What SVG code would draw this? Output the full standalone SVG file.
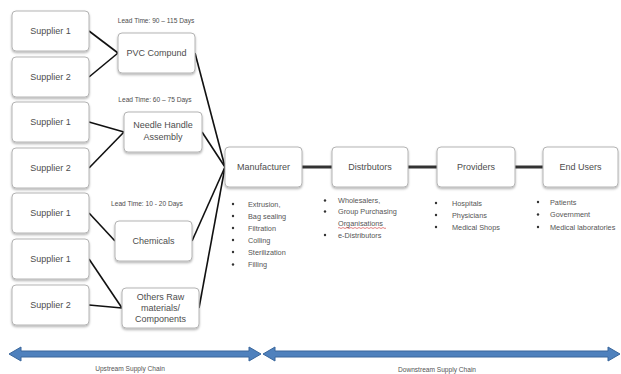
<svg xmlns="http://www.w3.org/2000/svg" width="621" height="374" viewBox="0 0 621 374">
  <style>
    .box { fill: #ffffff; stroke: #b4b4b4; stroke-width: 1; filter: url(#shadow); }
    .lbl { font-family: "Liberation Sans", Arial, sans-serif; font-size: 9px; fill: #4d4d4d; text-anchor: middle; }
    .lead { font-family: "Liberation Sans", Arial, sans-serif; font-size: 6.6px; fill: #4d4d4d; text-anchor: middle; }
    .item { font-family: "Liberation Sans", Arial, sans-serif; font-size: 7.3px; fill: #555555; }
    .cap { font-family: "Liberation Sans", Arial, sans-serif; font-size: 6.6px; fill: #555555; text-anchor: middle; }
    .feed { stroke: #111111; stroke-width: 1.6; fill: none; }
    .flow { stroke: #333333; stroke-width: 3; fill: none; }
    .dot { fill: #333333; }
    .band { fill: #4f81bd; stroke: #3a679c; stroke-width: 1; }
  </style>
  <defs>
    <filter id="shadow" x="-10%" y="-10%" width="120%" height="130%">
      <feDropShadow dx="0" dy="1.5" stdDeviation="1" flood-color="#000000" flood-opacity="0.3"/>
    </filter>
  </defs>

  <rect width="621" height="374" fill="#ffffff"/>

  <!-- connectors -->
  <g id="connectors">
    <line class="feed" x1="89" y1="31" x2="118" y2="53"/>
    <line class="feed" x1="89" y1="77" x2="118" y2="53"/>
    <line class="feed" x1="89" y1="122" x2="124" y2="132"/>
    <line class="feed" x1="89" y1="168" x2="124" y2="132"/>
    <line class="feed" x1="89" y1="213" x2="115" y2="241"/>
    <line class="feed" x1="89" y1="259" x2="122" y2="308"/>
    <line class="feed" x1="89" y1="305" x2="122" y2="308"/>
    <line class="feed" x1="195" y1="53" x2="225" y2="167"/>
    <line class="feed" x1="202" y1="132" x2="225" y2="167"/>
    <line class="feed" x1="192" y1="241" x2="225" y2="167"/>
    <line class="feed" x1="199" y1="308" x2="225" y2="167"/>
    <line class="flow" x1="302" y1="167" x2="332" y2="167"/>
    <line class="flow" x1="408" y1="167" x2="437" y2="167"/>
    <line class="flow" x1="515" y1="167" x2="543" y2="167"/>
  </g>

  <!-- suppliers -->
  <g id="supplier-pvc-1"><rect class="box" x="12" y="11" width="77" height="40" rx="4"/><text class="lbl" x="50.5" y="34">Supplier 1</text></g>
  <g id="supplier-pvc-2"><rect class="box" x="12" y="57" width="77" height="40" rx="4"/><text class="lbl" x="50.5" y="80">Supplier 2</text></g>
  <g id="supplier-needle-1"><rect class="box" x="12" y="102" width="77" height="40" rx="4"/><text class="lbl" x="50.5" y="125">Supplier 1</text></g>
  <g id="supplier-needle-2"><rect class="box" x="12" y="148" width="77" height="40" rx="4"/><text class="lbl" x="50.5" y="171">Supplier 2</text></g>
  <g id="supplier-chem-1"><rect class="box" x="12" y="193" width="77" height="40" rx="4"/><text class="lbl" x="50.5" y="216">Supplier 1</text></g>
  <g id="supplier-raw-1"><rect class="box" x="12" y="239" width="77" height="40" rx="4"/><text class="lbl" x="50.5" y="262">Supplier 1</text></g>
  <g id="supplier-raw-2"><rect class="box" x="12" y="285" width="77" height="40" rx="4"/><text class="lbl" x="50.5" y="308">Supplier 2</text></g>

  <!-- inputs -->
  <g id="pvc">
    <text class="lead" x="156" y="23">Lead Time: 90 – 115 Days</text>
    <rect class="box" x="118" y="33" width="77" height="40" rx="4"/>
    <text class="lbl" x="156.5" y="56">PVC Compund</text>
  </g>
  <g id="needle">
    <text class="lead" x="155" y="102">Lead Time: 60 – 75 Days</text>
    <rect class="box" x="124" y="112" width="78" height="40" rx="4"/>
    <text class="lbl" x="163" y="128">Needle Handle</text>
    <text class="lbl" x="163" y="140">Assembly</text>
  </g>
  <g id="chemicals">
    <text class="lead" x="147" y="206">Lead Time: 10 - 20 Days</text>
    <rect class="box" x="115" y="221" width="77" height="40" rx="4"/>
    <text class="lbl" x="153.5" y="244">Chemicals</text>
  </g>
  <g id="raw">
    <rect class="box" x="122" y="288" width="77" height="40" rx="4"/>
    <text class="lbl" x="160.5" y="300">Others Raw</text>
    <text class="lbl" x="160.5" y="311">materials/</text>
    <text class="lbl" x="160.5" y="322">Components</text>
  </g>

  <!-- downstream chain -->
  <g id="manufacturer">
    <rect class="box" x="225" y="147" width="77" height="40" rx="4"/>
    <text class="lbl" x="263.5" y="170">Manufacturer</text>
    <circle class="dot" cx="233" cy="204" r="1.2"/><text class="item" x="248" y="206.5">Extrusion,</text>
    <circle class="dot" cx="233" cy="216" r="1.2"/><text class="item" x="248" y="218.5">Bag sealing</text>
    <circle class="dot" cx="233" cy="228" r="1.2"/><text class="item" x="248" y="230.5">Filtration</text>
    <circle class="dot" cx="233" cy="240" r="1.2"/><text class="item" x="248" y="242.5">Colling</text>
    <circle class="dot" cx="233" cy="252" r="1.2"/><text class="item" x="248" y="254.5">Sterilization</text>
    <circle class="dot" cx="233" cy="264.5" r="1.2"/><text class="item" x="248" y="267">Filling</text>
  </g>
  <g id="distributors">
    <rect class="box" x="332" y="147" width="76" height="40" rx="4"/>
    <text class="lbl" x="370" y="170">Distrbutors</text>
    <circle class="dot" cx="325" cy="200.5" r="1.2"/><text class="item" x="338" y="203">Wholesalers,</text>
    <circle class="dot" cx="325" cy="211.5" r="1.2"/><text class="item" x="338" y="214">Group Purchasing</text>
    <text class="item" x="338" y="226">Organisations</text>
    <path d="M338,228 q1,-1 2,0 t2,0 t2,0 t2,0 t2,0 t2,0 t2,0 t2,0 t2,0 t2,0 t2,0 t2,0 t2,0 t2,0 t2,0 t2,0 t2,0 t2,0 t2,0 t2,0 t2,0 t2,0 t2,0 t2,0" fill="none" stroke="#d03030" stroke-width="0.6"/>
    <circle class="dot" cx="325" cy="235" r="1.2"/><text class="item" x="338" y="237.5">e-Distributors</text>
  </g>
  <g id="providers">
    <rect class="box" x="437" y="147" width="78" height="40" rx="4"/>
    <text class="lbl" x="476" y="170">Providers</text>
    <circle class="dot" cx="436" cy="203" r="1.2"/><text class="item" x="452" y="205.5">Hospitals</text>
    <circle class="dot" cx="436" cy="215" r="1.2"/><text class="item" x="452" y="217.5">Physicians</text>
    <circle class="dot" cx="436" cy="227" r="1.2"/><text class="item" x="452" y="229.5">Medical Shops</text>
  </g>
  <g id="end-users">
    <rect class="box" x="543" y="147" width="75" height="40" rx="4"/>
    <text class="lbl" x="580.5" y="170">End Users</text>
    <circle class="dot" cx="538" cy="202" r="1.2"/><text class="item" x="550" y="204.5">Patients</text>
    <circle class="dot" cx="538" cy="214.5" r="1.2"/><text class="item" x="550" y="217">Government</text>
    <circle class="dot" cx="538" cy="227" r="1.2"/><text class="item" x="550" y="229.5">Medical laboratories</text>
  </g>

  <!-- supply chain spans -->
  <g id="upstream">
    <polygon class="band" points="9,354 21,347 21,351 249,351 249,347 261,354 249,361 249,357 21,357 21,361"/>
    <text class="cap" x="130" y="371">Upstream Supply Chain</text>
  </g>
  <g id="downstream">
    <polygon class="band" points="263,354 275,347 275,351 608,351 608,347 620,354 608,361 608,357 275,357 275,361"/>
    <text class="cap" x="437" y="372">Downstream Supply Chain</text>
  </g>
</svg>
